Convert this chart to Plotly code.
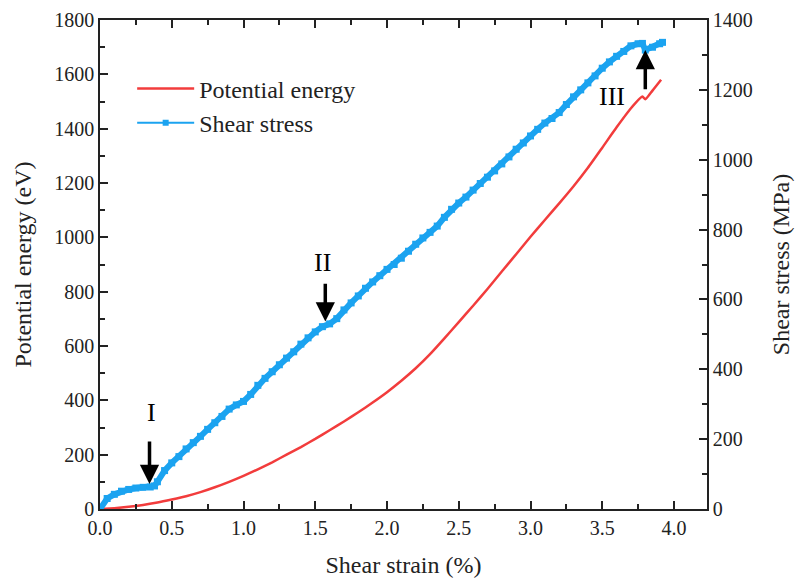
import plotly.graph_objects as go

# Potential energy (eV) vs shear strain (%)
pe_strain = [0.0, 0.1, 0.2, 0.3, 0.4, 0.5, 0.6, 0.7, 0.8, 0.9, 1.0, 1.1, 1.2, 1.3, 1.4,
             1.5, 1.6, 1.7, 1.8, 1.9, 2.0, 2.1, 2.2, 2.3, 2.4, 2.5, 2.6, 2.7, 2.8, 2.9,
             3.0, 3.1, 3.2, 3.3, 3.4, 3.5, 3.6, 3.7, 3.78, 3.80, 3.85, 3.91]
pe_value = [0, 3, 8, 15, 24, 35, 47, 62, 80, 100, 122, 146, 172, 200, 228,
            258, 290, 322, 356, 392, 430, 472, 518, 570, 628, 688, 748, 810, 874, 938,
            1002, 1064, 1125, 1188, 1256, 1330, 1405, 1475, 1518, 1508, 1540, 1580]

# Shear stress (MPa) vs shear strain (%)
ss_strain = [0.00, 0.05, 0.10, 0.15, 0.20, 0.25, 0.30, 0.35, 0.38, 0.40, 0.45, 0.50,
             0.55, 0.60, 0.65, 0.70, 0.75, 0.80, 0.85, 0.90, 0.95, 1.00, 1.05, 1.10,
             1.15, 1.20, 1.25, 1.30, 1.35, 1.40, 1.45, 1.50, 1.55, 1.60, 1.65, 1.70,
             1.75, 1.80, 1.85, 1.90, 1.95, 2.00, 2.05, 2.10, 2.15, 2.20, 2.25, 2.30,
             2.35, 2.40, 2.45, 2.50, 2.55, 2.60, 2.65, 2.70, 2.75, 2.80, 2.85, 2.90,
             2.95, 3.00, 3.05, 3.10, 3.15, 3.20, 3.25, 3.30, 3.35, 3.40, 3.45, 3.50,
             3.55, 3.60, 3.65, 3.70, 3.75, 3.78, 3.80, 3.85, 3.90, 3.92]
ss_value = [0, 30, 42, 51, 56, 60, 62, 63, 66, 78, 110, 132,
            150, 172, 190, 208, 228, 247, 265, 286, 298, 308, 328, 354,
            374, 393, 413, 432, 450, 472, 490, 507, 522, 530, 545, 570,
            590, 610, 632, 650, 668, 686, 700, 718, 738, 758, 776, 792,
            810, 835, 858, 876, 893, 913, 932, 950, 968, 988, 1008, 1030,
            1048, 1068, 1087, 1105, 1118, 1135, 1158, 1180, 1200, 1220, 1240, 1262,
            1280, 1296, 1310, 1326, 1332, 1333, 1314, 1322, 1332, 1336]

x_ticks = [0.0, 0.5, 1.0, 1.5, 2.0, 2.5, 3.0, 3.5, 4.0]

# Marker labels: (label, strain, energy) and arrows: (strain, head eV, tail eV)
labels = [("I", 0.36, 357), ("II", 1.55, 906), ("III", 3.57, 1517)]
arrows = [(0.345, 92, 254), (1.57, 690, 835), (3.80, 1690, 1540)]

RED = "#F23C3C"
BLUE = "#1BA3F0"
FONT = "Liberation Serif, Times New Roman, Times, serif"

fig = go.Figure()
fig.add_trace(go.Scatter(x=pe_strain, y=pe_value, mode="lines", name="Potential energy",
                         line=dict(color=RED, width=2.5, shape="spline", smoothing=0.5),
                         yaxis="y"))
fig.add_trace(go.Scatter(x=ss_strain, y=ss_value, mode="lines+markers", name="Shear stress",
                         line=dict(color=BLUE, width=6),
                         marker=dict(symbol="square", size=7, color=BLUE),
                         yaxis="y2", showlegend=False))
fig.add_trace(go.Scatter(x=[None], y=[None], mode="lines+markers", name="Shear stress",
                         line=dict(color=BLUE, width=2),
                         marker=dict(symbol="square", size=6, color=BLUE), yaxis="y2"))

for text, xs, ye in labels:
    fig.add_annotation(x=xs, y=ye, xref="x", yref="y", text=text, showarrow=False,
                       font=dict(family=FONT, size=26, color="black"))
for xs, yh, yt in arrows:
    fig.add_annotation(x=xs, y=yh, ax=xs, ay=yt, xref="x", yref="y", axref="x", ayref="y",
                       text="", showarrow=True, arrowhead=2, arrowsize=1.1,
                       arrowwidth=3.5, arrowcolor="black")

axis_common = dict(showline=True, linecolor="#222", linewidth=1.5, ticks="inside",
                   ticklen=8, tickwidth=1.5, tickcolor="#222", showgrid=False,
                   zeroline=False, automargin=False,
                   tickfont=dict(family=FONT, size=20, color="#222"),
                   title_font=dict(family=FONT, size=24, color="#222"))

fig.update_layout(
    width=795, height=585,
    margin=dict(l=100, r=88, t=20, b=76),
    paper_bgcolor="white", plot_bgcolor="white",
    font=dict(family=FONT),
    showlegend=True,
    legend=dict(x=0.053, y=0.905, xanchor="left", yanchor="top",
                bgcolor="rgba(0,0,0,0)", font=dict(family=FONT, size=24, color="#222"),
                itemwidth=57, tracegroupgap=0),
    xaxis=dict(range=[0, 4.23], tickvals=x_ticks, ticktext=[f"{v:.1f}" for v in x_ticks],
               mirror="ticks", title=dict(text="Shear strain (%)", standoff=18),
               minor=dict(ticks="inside", dtick=0.25, ticklen=5, tickwidth=1.5, tickcolor="#222"),
               **axis_common),
    yaxis=dict(range=[0, 1800], dtick=200, title=dict(text="Potential energy (eV)", standoff=16),
               minor=dict(ticks="inside", dtick=100, ticklen=5, tickwidth=1.5, tickcolor="#222"),
               **axis_common),
    yaxis2=dict(range=[0, 1400], dtick=200, overlaying="y", side="right",
                title=dict(text="Shear stress (MPa)", standoff=20),
                minor=dict(ticks="inside", dtick=100, ticklen=5, tickwidth=1.5, tickcolor="#222"),
                **axis_common),
)

fig.write_html("out.html")
